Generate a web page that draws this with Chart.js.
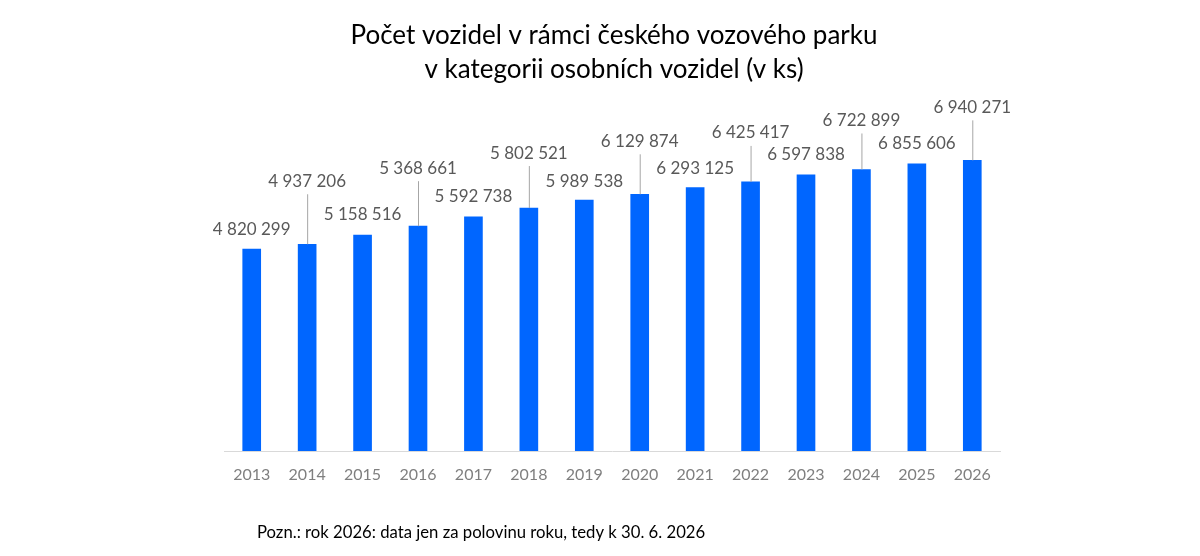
<!DOCTYPE html>
<html lang="cs">
<head>
<meta charset="utf-8">
<title>Počet vozidel</title>
<script src="https://cdn.jsdelivr.net/npm/chart.js@4.4.1/dist/chart.umd.min.js"></script>
<style>
    html, body { margin: 0; padding: 0; background: #ffffff; }
    #wrap { width: 1200px; height: 556px; position: relative; }
</style>
</head>
<body>
<div id="wrap"><canvas id="graf" width="1200" height="556"></canvas></div>
<script>
// data z grafu
const roky = ["2013", "2014", "2015", "2016", "2017", "2018", "2019", "2020", "2021", "2022", "2023", "2024", "2025", "2026"];
const pocty = [4820299, 4937206, 5158516, 5368661, 5592738, 5802521, 5989538, 6129874, 6293125, 6425417, 6597838, 6722899, 6855606, 6940271];
const titulek = ["Počet vozidel v rámci českého vozového parku", "v kategorii osobních vozidel (v ks)"];
const poznamka = "Pozn.: rok 2026: data jen za polovinu roku, tedy k 30. 6. 2026";

const FONT = "Lato, 'Open Sans', sans-serif";

// cisla s mezerou jako oddelovacem tisicu
const formatuj = (n) => String(n).replace(/\B(?=(\d{3})+(?!\d))/g, " ");

// popisky nad sloupci, kazdy druhy vys s vodici carou
const popiskyPlugin = {
    id: "popisky",
    afterDatasetsDraw(chart, args, opts) {
        const ctx = chart.ctx;
        const meta = chart.getDatasetMeta(0);
        ctx.save();
        ctx.font = `17px ${FONT}`;
        ctx.fillStyle = "#595959";
        ctx.textAlign = "center";
        ctx.textBaseline = "middle";
        meta.data.forEach((bar, i) => {
            const posun = opts.posuny[i];
            const y = bar.y - posun;
            if (posun > 30) {
                ctx.strokeStyle = "#a6a6a6";
                ctx.lineWidth = 1;
                ctx.beginPath();
                ctx.moveTo(bar.x + 0.5, y + 13);
                ctx.lineTo(bar.x + 0.5, bar.y);
                ctx.stroke();
            }
            ctx.fillText(formatuj(pocty[i]), bar.x, y);
        });
        ctx.restore();
    }
};

// nadpis a poznamka
const textyPlugin = {
    id: "texty",
    afterDraw(chart) {
        const ctx = chart.ctx;
        ctx.save();
        ctx.fillStyle = "#000000";
        ctx.textBaseline = "middle";
        ctx.textAlign = "center";
        ctx.font = `26px ${FONT}`;
        ctx.fillText(titulek[0], 614, 36);
        ctx.fillText(titulek[1], 614, 70);
        ctx.textAlign = "left";
        ctx.font = `16.7px ${FONT}`;
        ctx.fillText(poznamka, 257, 533);
        ctx.restore();
    }
};

const ctx = document.getElementById("graf").getContext("2d");
new Chart(ctx, {
    type: "bar",
    data: {
        labels: roky,
        datasets: [{
            label: "Osobní vozidla",
            data: pocty,
            backgroundColor: "#0066ff",
            borderWidth: 0,
            barThickness: 18
        }]
    },
    options: {
        responsive: false,
        animation: false,
        devicePixelRatio: 1,
        layout: {
            padding: { left: 224, right: 200, top: 116, bottom: 65 }
        },
        plugins: {
            legend: { display: false },
            title: { display: false },
            tooltip: { enabled: false },
            popisky: {
                posuny: [20, 63, 20, 58, 20, 55, 19, 53, 19, 49, 20, 49, 20, 53]
            }
        },
        scales: {
            y: {
                display: false,
                min: 0,
                max: 8000000
            },
            x: {
                afterFit: (scale) => { scale.height = 40; },
                grid: { display: false, drawTicks: false },
                border: { display: true, color: "#d9d9d9", width: 1 },
                ticks: {
                    color: "#7f7f7f",
                    font: { family: FONT, size: 16 },
                    padding: 14
                }
            }
        }
    },
    plugins: [popiskyPlugin, textyPlugin]
});
</script>
</body>
</html>
